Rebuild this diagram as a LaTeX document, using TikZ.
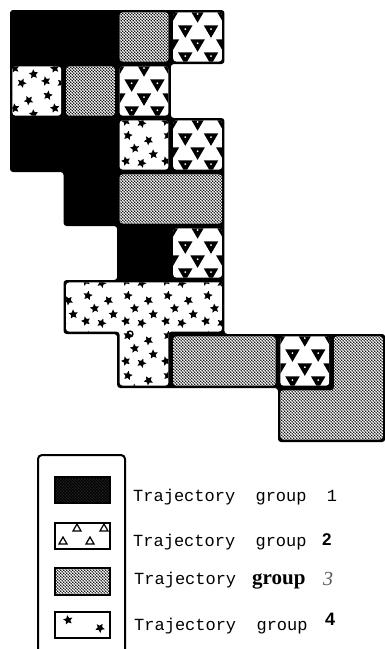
\documentclass[tikz,border=0pt]{standalone}
\usepackage{fontspec}
\setmonofont{Liberation Mono}
\newfontfamily\numsans{Liberation Sans}
\newfontfamily\numserif{Liberation Serif}
\usetikzlibrary{patterns.meta}

% five-point star at (x,y) in pt, turned by angle
\newcommand{\starmark}[3]{%
  \fill[shift={(#1pt,#2pt)},rotate=#3,scale=1.3]
    (0pt,3.8pt) -- (-1.06pt,1.46pt) -- (-3.61pt,1.17pt) -- (-1.71pt,-0.56pt)
    -- (-2.23pt,-3.07pt) -- (0pt,-1.8pt) -- (2.23pt,-3.07pt) -- (1.71pt,-0.56pt)
    -- (3.61pt,1.17pt) -- (1.06pt,1.46pt) -- cycle;}

\tikzdeclarepattern{
  name=stipple, type=uncolored,
  bounding box={(0pt,0pt) and (3.4pt,3.4pt)},
  tile size={(3.4pt,3.4pt)},
  code={
    \fill (0.85pt,0.85pt) circle (1pt);
    \fill (2.55pt,2.55pt) circle (1pt);
  }
}
\tikzdeclarepattern{
  name=stars, type=uncolored,
  bounding box={(0pt,0pt) and (40pt,40pt)},
  tile size={(40pt,40pt)},
  code={
    \starmark{6}{8}{15}
    \starmark{22}{6}{50}
    \starmark{34}{15}{5}
    \starmark{15}{21}{80}
    \starmark{29}{29}{30}
    \starmark{8}{34}{62}
  }
}

\begin{document}
\begin{tikzpicture}[x=1pt,y=-1pt,
    stipplecell/.style={rounded corners=3pt,preaction={fill=white},pattern=stipple,pattern color=black},
    starcell/.style={rounded corners=3pt,preaction={fill=white},pattern=stars,pattern color=black},
    swatch/.style={line width=1.6pt,draw=black},
    lbl/.style={anchor=base west,inner sep=0pt,font=\ttfamily\fontsize{17}{20}\selectfont}]
  \useasboundingbox (0,0) rectangle (385,649);
  \begin{scope}[shift={(10,10)},x=53.6pt,y=-54pt]
    % all cells, black = group 1
    \fill[rounded corners=3pt] (0,0) -- (4,0) -- (4,1) -- (3,1) -- (3,2) -- (4,2)
      -- (4,6) -- (7,6) -- (7,8) -- (5,8) -- (5,7) -- (2,7) -- (2,6) -- (1,6)
      -- (1,5) -- (2,5) -- (2,4) -- (1,4) -- (1,3) -- (0,3) -- cycle;
    % group 3
    \foreach \c/\r/\w in {2/0/1,1/1/1,2/3/2,3/6/2}
      \path[stipplecell] (\c+0.045,\r+0.045) rectangle (\c+\w-0.045,\r+0.955);
    \path[stipplecell] (6.045,6.045) -- (6.955,6.045) -- (6.955,7.955) -- (5.045,7.955)
      -- (5.045,7.045) -- (6.045,7.045) -- cycle;
    % group 4
    \foreach \c/\r in {0/1,2/2}
      \path[starcell] (\c+0.045,\r+0.045) rectangle (\c+0.955,\r+0.955);
    \path[starcell] (1.045,5.045) -- (3.955,5.045) -- (3.955,5.955) -- (2.955,5.955)
      -- (2.955,6.955) -- (2.045,6.955) -- (2.045,5.955) -- (1.045,5.955) -- cycle;
    % group 2
    \foreach \c/\r in {3/0,2/1,3/2,3/4,5/6}{
      \begin{scope}
        \clip[rounded corners=3pt] (\c+0.045,\r+0.045) rectangle (\c+0.955,\r+0.955);
        \fill[white] (\c,\r) rectangle (\c+1,\r+1);
        \foreach \u/\v in {0.02/0.12,0.5/0.12,0.98/0.12,0.27/0.4,0.75/0.4,
                           0.02/0.66,0.5/0.66,0.98/0.66,0.27/0.9,0.75/0.9}{
          \fill (\c+\u-0.135,\r+\v-0.115) -- (\c+\u+0.135,\r+\v-0.115) -- (\c+\u,\r+\v+0.115) -- cycle;
          \fill[white] (\c+\u,\r+\v-0.045) circle (1pt);
        }
      \end{scope}
    }
  \end{scope}
  \draw[line width=1.3pt] (130,334) circle (3pt);

  % legend
  \draw[line width=2pt,rounded corners=4pt] (38,665) -- (38,455) -- (125,455) -- (125,665);
  \path[swatch,preaction={fill=black},pattern=stipple,pattern color=black!85] (55,477) rectangle (110,503);
  \draw[swatch,fill=white] (55,523) rectangle (110,549);
  \foreach \x/\y in {63/541,90/541,77/528,104/528}
    \draw[line width=1.2pt] (\x-4,\y+3) -- (\x+4,\y+3) -- (\x,\y-4) -- cycle;
  \path[swatch,preaction={fill=white},pattern=stipple,pattern color=black] (55,568) rectangle (110,595);
  \draw[swatch,fill=white] (55,612) rectangle (110,638);
  \foreach \x/\y/\a in {68/620/10,100/628/40}{
    \begin{scope}[shift={(\x,\y)}] \starmark{0}{0}{\a} \end{scope}
  }
  \node[lbl] (t1) at (133,501) {Trajectory~~group~~1};
  \node[lbl] (t2) at (133,546) {Trajectory~~group};
  \node[lbl,font=\numsans\bfseries\fontsize{17}{20}\selectfont] (n2) at (322,545) {2};
  \node[lbl] (t3) at (134,584) {Trajectory};
  \node[lbl,font=\numserif\bfseries\fontsize{21}{24}\selectfont] (g3) at (252,584) {group};
  \node[lbl,font=\numserif\itshape\fontsize{20}{24}\selectfont,text=black!65] (n3) at (323,585) {3};
  \node[lbl] (t4) at (134,630) {Trajectory~~group};
  \node[lbl,font=\numsans\bfseries\fontsize{18}{20}\selectfont] (n4) at (325,625) {4};
\end{tikzpicture}
\end{document}
